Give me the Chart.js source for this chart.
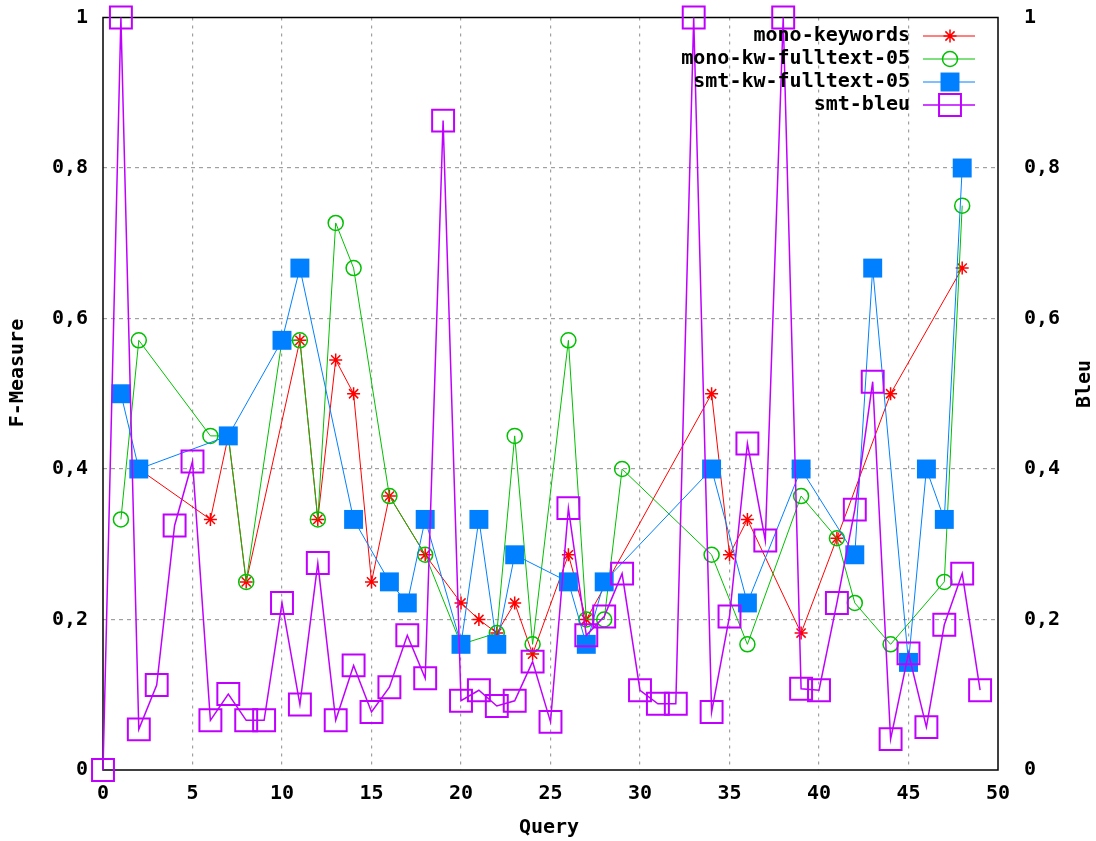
<!DOCTYPE html>
<html><head><meta charset="utf-8">
<style>html,body{margin:0;padding:0;background:#fff;}#wrap{width:1096px;height:841px;}</style>
<script src="https://cdn.jsdelivr.net/npm/chart.js@4.4.1/dist/chart.umd.min.js"></script>
</head><body><div id="wrap"><canvas id="c" width="1096" height="841"></canvas></div>
<script>
// ---- data ----
const seriesNames = ['mono-keywords','mono-kw-fulltext-05','smt-kw-fulltext-05','smt-bleu'];
const monoKeywordsQ = [2,6,7,8,11,12,13,14,15,16,18,20,21,22,23,24,26,27,34,35,36,39,41,44,48];
const monoKeywordsF = [0.4,0.333,0.444,0.25,0.571,0.333,0.545,0.5,0.25,0.364,0.286,0.222,0.2,0.182,0.222,0.154,0.286,0.2,0.5,0.286,0.333,0.182,0.308,0.5,0.667];
const monoFulltextQ = [1,2,6,7,8,10,11,12,13,14,16,18,20,22,23,24,26,27,28,29,34,36,39,41,42,44,47,48];
const monoFulltextF = [0.333,0.571,0.444,0.444,0.25,0.571,0.571,0.333,0.727,0.667,0.364,0.286,0.167,0.182,0.444,0.167,0.571,0.2,0.2,0.4,0.286,0.167,0.364,0.308,0.222,0.167,0.25,0.75];
const smtFulltextQ = [1,2,7,10,11,14,16,17,18,20,21,22,23,26,27,28,34,36,39,42,43,45,46,47,48];
const smtFulltextF = [0.5,0.4,0.444,0.571,0.667,0.333,0.25,0.222,0.333,0.167,0.333,0.167,0.286,0.25,0.167,0.25,0.4,0.222,0.4,0.286,0.667,0.143,0.4,0.333,0.8];
const smtBleuQ = [0,1,2,3,4,5,6,7,8,9,10,11,12,13,14,15,16,17,18,19,20,21,22,23,24,25,26,27,28,29,30,31,32,33,34,35,36,37,38,39,40,41,42,43,44,45,46,47,48,49];
const smtBleuV = [0,1,0.054,0.113,0.325,0.41,0.066,0.101,0.066,0.066,0.222,0.087,0.275,0.066,0.139,0.077,0.11,0.179,0.122,0.863,0.092,0.106,0.085,0.092,0.144,0.064,0.348,0.179,0.204,0.261,0.106,0.088,0.088,1,0.077,0.204,0.434,0.305,1,0.108,0.106,0.222,0.346,0.516,0.041,0.155,0.057,0.193,0.261,0.106];
const xTickLabels = ['0','5','10','15','20','25','30','35','40','45','50'];
const yTickLabels = ['0','0,2','0,4','0,6','0,8','1'];
const y2TickLabels = ['0','0,2','0,4','0,6','0,8','1'];
const xTitle = 'Query', yTitle = 'F-Measure', y2Title = 'Bleu';

const pts = (q, v) => q.map((x, i) => ({x: x, y: v[i]}));
const FONT = 'DejaVu Sans Mono';
const FS = 20;
const tickFont = {family: FONT, size: FS, weight: 'bold'};
const colors = ['#ff0000', '#00c000', '#0080ff', '#c000ff'];
const pointCfg = [
  {pointStyle: 'star', radius: 6.5, bw: 1.5, bg: 'rgba(0,0,0,0)'},
  {pointStyle: 'circle', radius: 7.5, bw: 1.5, bg: 'rgba(0,0,0,0)'},
  {pointStyle: 'rect', radius: 13.4, bw: 0, bg: colors[2]},
  {pointStyle: 'rect', radius: 15.5, bw: 2, bg: 'rgba(0,0,0,0)'}
];
const mk = (i, data, axis, lw) => ({
  label: seriesNames[i], data: data, yAxisID: axis,
  borderColor: colors[i], borderWidth: lw, tension: 0, fill: false, clip: false,
  pointStyle: pointCfg[i].pointStyle, pointRadius: pointCfg[i].radius, pointHoverRadius: pointCfg[i].radius,
  pointBorderWidth: pointCfg[i].bw, pointBackgroundColor: pointCfg[i].bg, pointBorderColor: colors[i],
  order: 4 - i
});

const gridColor = (ctx) => (ctx.tick && (ctx.index === 0 || ctx.index === ctx.chart.scales[ctx.scale.id].ticks.length - 1)) ? 'rgba(0,0,0,0)' : '#a0a0a0';

const decor = {
  id: 'decor',
  beforeDatasetsDraw(chart) {
    const {ctx, chartArea: a} = chart;
    ctx.save();
    ctx.strokeStyle = '#000';
    ctx.lineWidth = 1.5;
    ctx.strokeRect(a.left, a.top, a.right - a.left, a.bottom - a.top);
    ctx.restore();
  },
  afterDatasetsDraw(chart) {
    const ctx = chart.ctx;
    ctx.save();
    ctx.font = 'bold ' + FS + 'px "' + FONT + '"';
    ctx.fillStyle = '#000';
    ctx.textBaseline = 'middle';
    // legend
    const rows = [36, 59, 82, 105];
    chart.data.datasets.forEach((ds, i) => {
      const y = rows[i];
      ctx.textAlign = 'right';
      ctx.fillStyle = '#000';
      ctx.fillText(ds.label, 910, y);
      ctx.strokeStyle = colors[i];
      ctx.lineWidth = ds.borderWidth;
      ctx.beginPath(); ctx.moveTo(923, y); ctx.lineTo(975, y); ctx.stroke();
      ctx.fillStyle = pointCfg[i].bg;
      ctx.strokeStyle = colors[i];
      ctx.lineWidth = pointCfg[i].bw;
      Chart.helpers.drawPoint(ctx, {pointStyle: pointCfg[i].pointStyle, radius: pointCfg[i].radius, rotation: 0, borderWidth: pointCfg[i].bw}, 950, y);
    });
    // axis titles
    ctx.fillStyle = '#000';
    ctx.textAlign = 'center';
    ctx.fillText(xTitle, 549, 828);
    ctx.save(); ctx.translate(18, 373); ctx.rotate(-Math.PI / 2); ctx.fillText(yTitle, 0, 0); ctx.restore();
    ctx.save(); ctx.translate(1085, 384); ctx.rotate(-Math.PI / 2); ctx.fillText(y2Title, 0, 0); ctx.restore();
    ctx.restore();
  }
};

new Chart(document.getElementById('c'), {
  type: 'line',
  data: {datasets: [
    mk(0, pts(monoKeywordsQ, monoKeywordsF), 'y', 1),
    mk(1, pts(monoFulltextQ, monoFulltextF), 'y', 1),
    mk(2, pts(smtFulltextQ, smtFulltextF), 'y', 1),
    mk(3, pts(smtBleuQ, smtBleuV), 'y2', 1.5)
  ]},
  options: {
    responsive: false, animation: false, devicePixelRatio: 1,
    layout: {padding: {top: 17, left: 0, right: 0, bottom: 0}},
    plugins: {legend: {display: false}, tooltip: {enabled: false}},
    scales: {
      x: {type: 'linear', position: 'bottom', min: 0, max: 50,
        ticks: {stepSize: 5, font: tickFont, color: '#000', padding: 12, maxRotation: 0,
          callback: (v, i) => xTickLabels[i]},
        grid: {color: gridColor, lineWidth: 1.2, drawTicks: false},
        border: {display: false, dash: [3, 5]},
        afterFit: (s) => { s.height = 71; s.paddingLeft = 0; s.paddingRight = 0; }
      },
      y: {position: 'left', min: 0, max: 1,
        ticks: {stepSize: 0.2, font: tickFont, color: '#000', padding: 15,
          callback: (v, i) => yTickLabels[i]},
        grid: {color: gridColor, lineWidth: 1.2, drawTicks: false},
        border: {display: false, dash: [4, 4]},
        afterFit: (s) => { s.width = 103; s.paddingTop = 0; s.paddingBottom = 0; }
      },
      y2: {position: 'right', min: 0, max: 1,
        ticks: {stepSize: 0.2, font: tickFont, color: '#000', padding: 26,
          callback: (v, i) => y2TickLabels[i]},
        grid: {drawOnChartArea: false, drawTicks: false},
        border: {display: false},
        afterFit: (s) => { s.width = 98; s.paddingTop = 0; s.paddingBottom = 0; }
      }
    }
  },
  plugins: [decor]
});
</script>
</body></html>
